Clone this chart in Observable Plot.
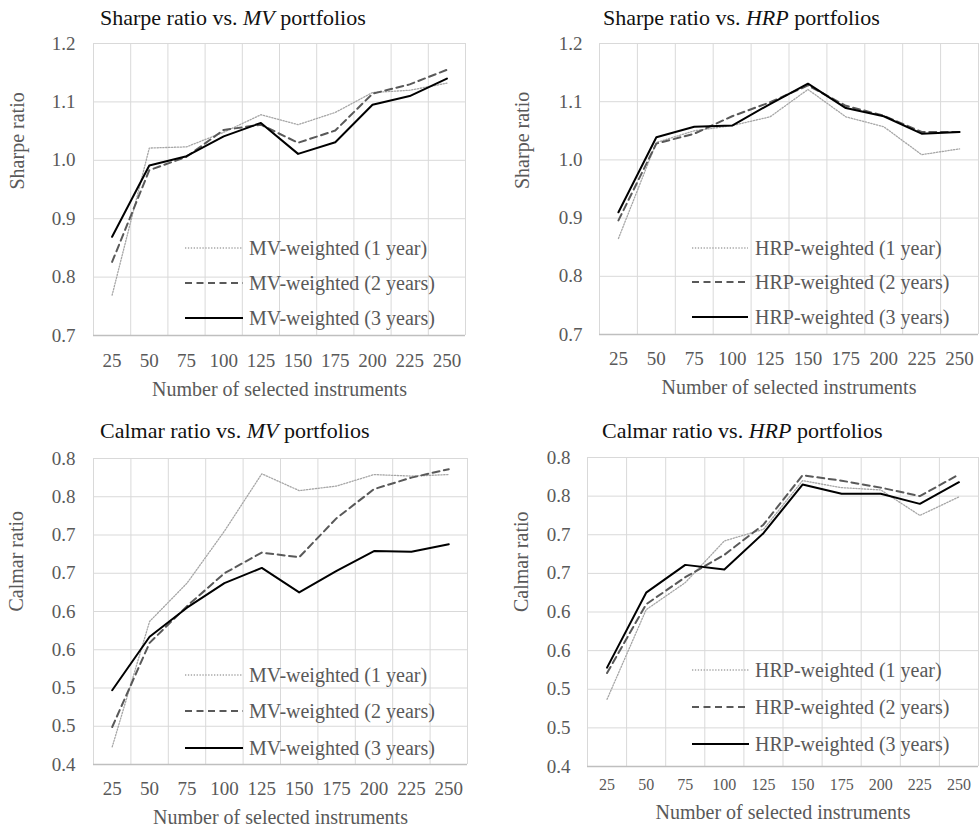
<!DOCTYPE html>
<html><head><meta charset="utf-8">
<script src="https://cdn.jsdelivr.net/npm/d3@7"></script>
<script src="https://cdn.jsdelivr.net/npm/@observablehq/plot@0.6"></script>
<style>
body{margin:0;background:#fff;}
#root{position:relative;width:979px;height:829px;overflow:hidden;background:#fff;font-family:'Liberation Serif', serif;}
.title{position:absolute;font-family:'Liberation Serif', serif;font-size:22px;line-height:22px;color:#111;white-space:nowrap;}
.legtext{position:absolute;font-family:'Liberation Serif', serif;font-size:20px;line-height:20px;color:#595959;white-space:nowrap;}
.panel{position:absolute;}
.legline{position:absolute;overflow:visible;}
svg text{font-family:'Liberation Serif', serif;}
</style></head><body><div id="root"></div>
<script>
// ---- data ----
const categories = [25, 50, 75, 100, 125, 150, 175, 200, 225, 250];

const sharpeMV1 = [0.769, 1.021, 1.023, 1.048, 1.078, 1.061, 1.082, 1.116, 1.120, 1.132];
const sharpeMV2 = [0.826, 0.983, 1.006, 1.052, 1.061, 1.030, 1.051, 1.114, 1.130, 1.155];
const sharpeMV3 = [0.869, 0.991, 1.007, 1.041, 1.064, 1.011, 1.031, 1.095, 1.110, 1.140];

const sharpeHRP1 = [0.865, 1.030, 1.050, 1.059, 1.074, 1.121, 1.074, 1.057, 1.009, 1.019];
const sharpeHRP2 = [0.896, 1.028, 1.045, 1.075, 1.099, 1.128, 1.093, 1.076, 1.048, 1.048];
const sharpeHRP3 = [0.910, 1.039, 1.057, 1.059, 1.096, 1.131, 1.089, 1.075, 1.045, 1.048];

const calmarMV1 = [0.423, 0.587, 0.637, 0.705, 0.780, 0.758, 0.764, 0.779, 0.777, 0.779];
const calmarMV2 = [0.449, 0.559, 0.607, 0.650, 0.677, 0.671, 0.722, 0.760, 0.775, 0.786];
const calmarMV3 = [0.497, 0.567, 0.605, 0.637, 0.657, 0.625, 0.653, 0.679, 0.678, 0.688];

const calmarHRP1 = [0.487, 0.603, 0.638, 0.692, 0.707, 0.770, 0.761, 0.758, 0.725, 0.749];
const calmarHRP2 = [0.521, 0.610, 0.645, 0.674, 0.713, 0.777, 0.770, 0.761, 0.750, 0.778];
const calmarHRP3 = [0.528, 0.625, 0.661, 0.655, 0.702, 0.765, 0.753, 0.753, 0.740, 0.768];

const sharpeTicks = [0.7, 0.8, 0.9, 1.0, 1.1, 1.2];
const sharpeTickLabels = ["0.7", "0.8", "0.9", "1.0", "1.1", "1.2"];
const calmarTicks = [0.40, 0.45, 0.50, 0.55, 0.60, 0.65, 0.70, 0.75, 0.80];
const calmarTickLabels = ["0.4", "0.5", "0.5", "0.6", "0.6", "0.7", "0.7", "0.8", "0.8"];

const namesMV = ["MV-weighted (1 year)", "MV-weighted (2 years)", "MV-weighted (3 years)"];
const namesHRP = ["HRP-weighted (1 year)", "HRP-weighted (2 years)", "HRP-weighted (3 years)"];
const xTitle = "Number of selected instruments";

// ---- styles ----
const FONT = "Liberation Serif, serif";
const lineStyles = [
  {stroke: "#a6a6a6", width: 1.3, dash: "1.3,1.6"},
  {stroke: "#595959", width: 2, dash: "7,4.5"},
  {stroke: "#000000", width: 2, dash: null}
];

const root = document.getElementById("root");

function panel(p) {
  const fmt = new Map(p.yTicks.map((t, i) => [t, p.yLabels[i]]));
  const bounds = [categories[0] - 12.5, ...categories.map(c => c + 12.5)];
  const marks = [
    Plot.gridY(p.yTicks, {stroke: "#d9d9d9", strokeOpacity: 1, strokeWidth: 1}),
    Plot.ruleX(bounds, {stroke: "#d9d9d9", strokeWidth: 1}),
    Plot.ruleY([p.yTicks[0]], {stroke: "#bfbfbf", strokeWidth: 1.6}),
    Plot.axisY(p.yTicks, {tickSize: 0, tickPadding: p.yPad, tickFormat: d => fmt.get(d), fontSize: 19, fontFamily: FONT, label: null}),
    Plot.axisX(categories, {tickSize: 0, tickPadding: p.xPad, tickFormat: d => String(d), fontSize: p.xFont, fontFamily: FONT, label: null}),
    ...p.series.map((arr, s) => Plot.line(categories.map((c, i) => ({x: c, y: arr[i]})), {
      x: "x", y: "y",
      stroke: lineStyles[s].stroke,
      strokeWidth: lineStyles[s].width,
      strokeDasharray: lineStyles[s].dash || undefined
    })),
    Plot.text([p.yTitle], {text: d => d, frameAnchor: "left", lineAnchor: "middle", dx: p.yTitleDx, rotate: -90, fontSize: 20, fontFamily: FONT, fill: "#595959"}),
    Plot.text([xTitle], {text: d => d, frameAnchor: "bottom", lineAnchor: "middle", dy: p.xTitleDy, fontSize: 20, fontFamily: FONT, fill: "#595959"})
  ];
  const svg = Plot.plot({
    width: p.width, height: p.height,
    marginLeft: p.m[0], marginRight: p.m[1], marginTop: p.m[2], marginBottom: p.m[3],
    x: {domain: [categories[0] - 12.5, categories[categories.length - 1] + 12.5]},
    y: {domain: [p.yTicks[0], p.yTicks[p.yTicks.length - 1]]},
    style: {fontFamily: FONT, color: "#595959", background: "transparent", overflow: "visible"},
    marks
  });
  const wrap = document.createElement("div");
  wrap.className = "panel";
  wrap.style.left = p.left + "px";
  wrap.style.top = p.top + "px";
  wrap.appendChild(svg);
  root.appendChild(wrap);

  const t = document.createElement("div");
  t.className = "title";
  t.style.left = p.titleX + "px";
  t.style.top = (p.titleBase - 18.4) + "px";
  t.innerHTML = p.titleHTML;
  root.appendChild(t);

  p.names.forEach((name, s) => {
    const y = p.legRows[s];
    const ns = "http://www.w3.org/2000/svg";
    const ls = document.createElementNS(ns, "svg");
    ls.setAttribute("class", "legline");
    ls.setAttribute("width", p.legX1 - p.legX0);
    ls.setAttribute("height", 6);
    ls.style.left = p.legX0 + "px";
    ls.style.top = (y - 3) + "px";
    const ln = document.createElementNS(ns, "line");
    ln.setAttribute("x1", 0); ln.setAttribute("x2", p.legX1 - p.legX0);
    ln.setAttribute("y1", 3); ln.setAttribute("y2", 3);
    ln.setAttribute("stroke", lineStyles[s].stroke);
    ln.setAttribute("stroke-width", lineStyles[s].width);
    if (lineStyles[s].dash) ln.setAttribute("stroke-dasharray", lineStyles[s].dash);
    ls.appendChild(ln);
    root.appendChild(ls);
    const tx = document.createElement("div");
    tx.className = "legtext";
    tx.style.left = p.legText + "px";
    tx.style.top = (y + 6.5 - 16.75) + "px";
    tx.textContent = name;
    root.appendChild(tx);
  });
}

panel({
  left: 0, top: 30, width: 490, height: 380, m: [93, 25, 13, 75],
  yTicks: sharpeTicks, yLabels: sharpeTickLabels, yTitle: "Sharpe ratio",
  series: [sharpeMV1, sharpeMV2, sharpeMV3], names: namesMV,
  yPad: 18, xPad: 18, xFont: 19, yTitleDx: -76, xTitleDy: 53.6,
  titleX: 100, titleBase: 25, titleHTML: "Sharpe ratio vs. <i>MV</i> portfolios",
  legX0: 185, legX1: 243, legText: 249, legRows: [248, 283, 318]
});
panel({
  left: 490, top: 30, width: 489, height: 380, m: [109, 1, 13, 76],
  yTicks: sharpeTicks, yLabels: sharpeTickLabels, yTitle: "Sharpe ratio",
  series: [sharpeHRP1, sharpeHRP2, sharpeHRP3], names: namesHRP,
  yPad: 17, xPad: 17, xFont: 19, yTitleDx: -77, xTitleDy: 52.6,
  titleX: 603, titleBase: 25, titleHTML: "Sharpe ratio vs. <i>HRP</i> portfolios",
  legX0: 692, legX1: 748, legText: 755, legRows: [248, 282, 317]
});
panel({
  left: 0, top: 440, width: 490, height: 389, m: [93, 23, 18, 65],
  yTicks: calmarTicks, yLabels: calmarTickLabels, yTitle: "Calmar ratio",
  series: [calmarMV1, calmarMV2, calmarMV3], names: namesMV,
  yPad: 18, xPad: 17, xFont: 19, yTitleDx: -77, xTitleDy: 52.6,
  titleX: 100, titleBase: 438, titleHTML: "Calmar ratio vs. <i>MV</i> portfolios",
  legX0: 185, legX1: 243, legText: 249, legRows: [675, 711, 748]
});
panel({
  left: 490, top: 440, width: 489, height: 389, m: [97, 1, 17, 63],
  yTicks: calmarTicks, yLabels: calmarTickLabels, yTitle: "Calmar ratio",
  series: [calmarHRP1, calmarHRP2, calmarHRP3], names: namesHRP,
  yPad: 17, xPad: 12, xFont: 16, yTitleDx: -66, xTitleDy: 45.6,
  titleX: 602, titleBase: 438, titleHTML: "Calmar ratio vs. <i>HRP</i> portfolios",
  legX0: 692, legX1: 749, legText: 755, legRows: [670, 707, 744]
});
</script>
</body></html>
